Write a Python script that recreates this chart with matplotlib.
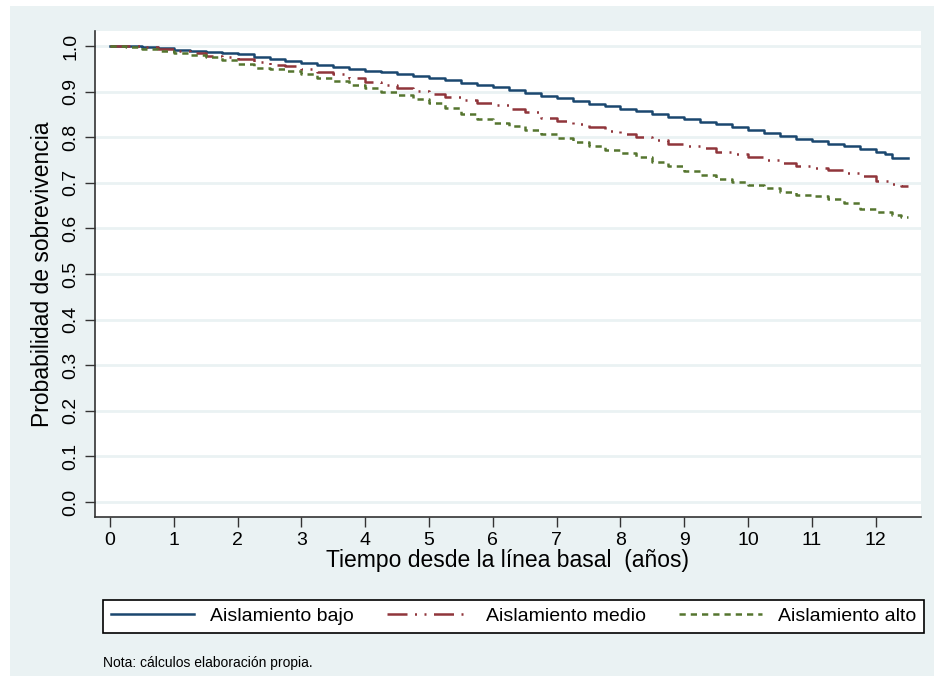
import numpy as np
import matplotlib
matplotlib.use('Agg')
import matplotlib.pyplot as plt
from matplotlib.patches import Rectangle

plt.rcParams['font.family'] = ['Liberation Sans', 'DejaVu Sans']

# Kaplan-Meier estimates by level of social isolation (years, survival)
t_bajo = [0, 0.25, 0.5, 0.75, 1.0, 1.25, 1.5, 1.75, 2.0, 2.25, 2.5, 2.75, 3.0,
          3.25, 3.5, 3.75, 4.0, 4.25, 4.5, 4.75, 5.0, 5.25, 5.5, 5.75, 6.0,
          6.25, 6.5, 6.75, 7.0, 7.25, 7.5, 7.75, 8.0, 8.25, 8.5, 8.75, 9.0,
          9.25, 9.5, 9.75, 10.0, 10.25, 10.5, 10.75, 11.0, 11.25, 11.5, 11.75,
          12.0, 12.15, 12.25, 12.5]
s_bajo = [1.0, 1.0, 0.998, 0.995, 0.992, 0.990, 0.988, 0.985, 0.982, 0.977,
          0.972, 0.967, 0.963, 0.958, 0.953, 0.950, 0.946, 0.943, 0.939, 0.935,
          0.930, 0.925, 0.920, 0.915, 0.910, 0.904, 0.898, 0.891, 0.885, 0.879,
          0.873, 0.868, 0.863, 0.857, 0.850, 0.845, 0.840, 0.834, 0.828, 0.822,
          0.816, 0.810, 0.802, 0.796, 0.791, 0.786, 0.780, 0.774, 0.768, 0.763,
          0.755, 0.755]

t_medio = [0, 0.25, 0.5, 0.75, 1.0, 1.25, 1.5, 1.75, 2.0, 2.25, 2.5, 2.75, 3.0,
           3.25, 3.5, 3.75, 4.0, 4.25, 4.5, 4.75, 5.0, 5.25, 5.5, 5.75, 6.0,
           6.25, 6.5, 6.75, 7.0, 7.25, 7.5, 7.75, 8.0, 8.25, 8.5, 8.75, 9.0,
           9.25, 9.5, 9.75, 10.0, 10.25, 10.5, 10.75, 11.0, 11.25, 11.5, 11.75,
           12.0, 12.25, 12.4, 12.5]
s_medio = [1.0, 1.0, 0.997, 0.993, 0.989, 0.984, 0.979, 0.976, 0.971, 0.964,
           0.959, 0.956, 0.950, 0.944, 0.938, 0.930, 0.921, 0.914, 0.908, 0.902,
           0.895, 0.889, 0.882, 0.876, 0.870, 0.863, 0.855, 0.843, 0.836, 0.829,
           0.822, 0.814, 0.807, 0.800, 0.793, 0.786, 0.781, 0.776, 0.768, 0.763,
           0.757, 0.751, 0.744, 0.737, 0.732, 0.728, 0.722, 0.714, 0.705, 0.697,
           0.692, 0.692]

t_alto = [0, 0.25, 0.5, 0.75, 1.0, 1.25, 1.5, 1.75, 2.0, 2.25, 2.5, 2.75, 3.0,
          3.25, 3.5, 3.75, 4.0, 4.25, 4.5, 4.75, 5.0, 5.25, 5.5, 5.75, 6.0,
          6.25, 6.5, 6.75, 7.0, 7.25, 7.5, 7.75, 8.0, 8.25, 8.5, 8.75, 9.0,
          9.25, 9.5, 9.75, 10.0, 10.25, 10.5, 10.75, 11.0, 11.25, 11.5, 11.75,
          12.0, 12.25, 12.4, 12.5]
s_alto = [1.0, 0.998, 0.994, 0.989, 0.985, 0.980, 0.977, 0.970, 0.960, 0.952,
          0.949, 0.945, 0.938, 0.931, 0.923, 0.915, 0.908, 0.900, 0.892, 0.883,
          0.874, 0.864, 0.851, 0.839, 0.831, 0.824, 0.816, 0.808, 0.798, 0.789,
          0.780, 0.772, 0.765, 0.757, 0.746, 0.736, 0.727, 0.718, 0.708, 0.701,
          0.695, 0.688, 0.680, 0.674, 0.670, 0.664, 0.656, 0.643, 0.636, 0.630,
          0.626, 0.626]

labels = ['Aislamiento bajo', 'Aislamiento medio', 'Aislamiento alto']
x_ticks = list(range(0, 13))
y_ticks = [round(0.1 * i, 1) for i in range(11)]

bg = '#EAF2F3'
fig = plt.figure(figsize=(9.34, 6.82), dpi=100)
fig.patches.append(Rectangle((10 / 934, 1 - 676 / 682), 1 - 10 / 934, 670 / 682,
                             transform=fig.transFigure, facecolor=bg,
                             edgecolor='none', zorder=-1))

ax = fig.add_axes([95 / 934, 1 - 517 / 682, 826 / 934, 486 / 682])
ax.set_facecolor('white')

for y in y_ticks:
    ax.axhline(y, color=bg, lw=2, zorder=1)

l1, = ax.plot(t_bajo, s_bajo, drawstyle='steps-post', color='#1A476F', lw=1.8, zorder=3)
l2, = ax.plot(t_medio, s_medio, drawstyle='steps-post', color='#90353B', lw=1.8,
              dashes=(8, 3, 0.8, 3, 0.8, 3), zorder=3)
l3, = ax.plot(t_alto, s_alto, drawstyle='steps-post', color='#55752F', lw=1.8,
              dashes=(2.5, 2), zorder=3)

ax.set_xlim(-0.235, 12.71)
ax.set_ylim(-0.033, 1.033)
ax.set_xticks(x_ticks)
ax.set_yticks(y_ticks)
ax.set_yticklabels([f'{v:.1f}' for v in y_ticks], rotation=90, va='center')
ax.tick_params(axis='both', length=7, width=1, color='#333333', labelsize=14, pad=4)

for side in ['top', 'right']:
    ax.spines[side].set_visible(False)
for side in ['left', 'bottom']:
    ax.spines[side].set_color('#333333')
    ax.spines[side].set_linewidth(1.2)

ax.set_xlabel('Tiempo desde la línea basal  (años)', fontsize=16.5, labelpad=0)
ax.set_ylabel('Probabilidad de sobrevivencia', fontsize=16.5, labelpad=6)

leg = fig.legend([l1, l2, l3], labels, ncol=3, mode='expand',
                 bbox_to_anchor=(103 / 934, 1 - 633 / 682, 821 / 934, 44 / 682),
                 loc='lower left', fontsize=14, handlelength=4.3, frameon=True,
                 fancybox=False, edgecolor='black', framealpha=1, borderaxespad=0)
leg.get_frame().set_linewidth(1.2)

fig.text(103 / 934, 1 - 663 / 682, 'Nota: cálculos elaboración propia.', fontsize=10,
         va='center')

fig.savefig('out.png', dpi=100)
